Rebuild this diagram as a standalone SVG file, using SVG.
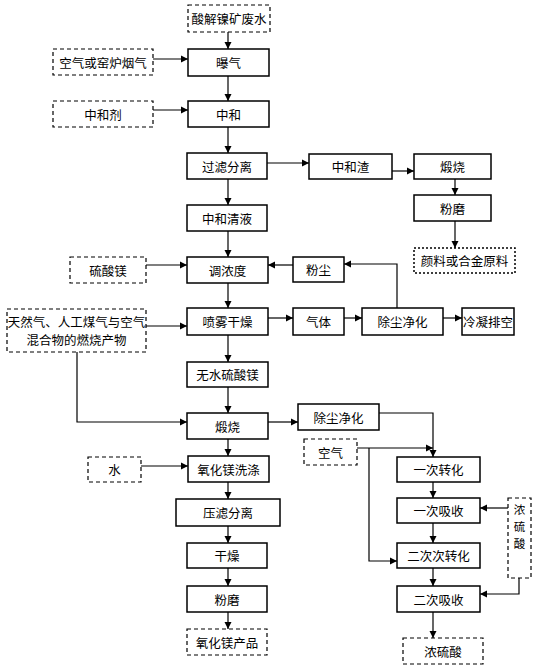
<svg xmlns="http://www.w3.org/2000/svg" width="536" height="672" viewBox="0 0 536 672">
<style>
.b{fill:#fff;stroke:#000;stroke-width:1.5}
.d{fill:#fff;stroke:#000;stroke-width:1.2;stroke-dasharray:4 3}
.o{fill:#fff;stroke:#000;stroke-width:1.5;stroke-dasharray:2 2}
text{font-family:"Noto Sans CJK SC","Noto Sans CJK JP",sans-serif;font-size:12.5px;fill:#000;text-anchor:middle;dominant-baseline:central}
.v{font-size:11.5px}
.c{fill:none;stroke:#000;stroke-width:1.2;marker-end:url(#a)}
</style>
<defs>
<marker id="a" markerUnits="userSpaceOnUse" markerWidth="8" markerHeight="8" refX="7" refY="4" orient="auto">
<path d="M0,0.5 L7,4 L0,7.5 Z" fill="#000"/>
</marker>
</defs>
<rect width="536" height="672" fill="#fff"/>
<g id="connectors">
<path class="c" d="M228,32 V49"/>
<path class="c" d="M153,59 H188"/>
<path class="c" d="M228,76 V101"/>
<path class="c" d="M153,110 H188"/>
<path class="c" d="M228,127 V153"/>
<path class="c" d="M267,163 H309"/>
<path class="c" d="M392,171 H414"/>
<path class="c" d="M455,179 V195"/>
<path class="c" d="M455,221 V248"/>
<path class="c" d="M228,179 V205"/>
<path class="c" d="M228,231 V257"/>
<path class="c" d="M146,265 H187"/>
<path class="c" d="M293,265 H268"/>
<path class="c" d="M397,308 V264 H344"/>
<path class="c" d="M228,283 V308"/>
<path class="c" d="M146,326 H187"/>
<path class="c" d="M268,318 H293"/>
<path class="c" d="M344,318 H362"/>
<path class="c" d="M443,318 H462"/>
<path class="c" d="M228,335 V362"/>
<path class="c" d="M228,387 V413"/>
<path class="c" d="M77,352 V422 H187"/>
<path class="c" d="M268,422 H298"/>
<path class="c" d="M379,413 H433 V457"/>
<path class="c" d="M357,448 H433"/>
<path class="c" d="M369,448 V561 H397"/>
<path class="c" d="M433,482 V498"/>
<path class="c" d="M433,523 V543"/>
<path class="c" d="M433,568 V586"/>
<path class="c" d="M508,508 H480"/>
<path class="c" d="M519,578 V594 H480"/>
<path class="c" d="M433,612 V638"/>
<path class="c" d="M228,439 V456"/>
<path class="c" d="M141,466 H188"/>
<path class="c" d="M228,482 V499"/>
<path class="c" d="M228,526 V543"/>
<path class="c" d="M228,568 V586"/>
<path class="c" d="M228,612 V629"/>
</g>
<g id="n1"><rect class="d" x="188" y="5" width="82" height="27"/><text x="229" y="18.5">酸解镍矿废水</text></g>
<g id="n2"><rect class="b" x="188" y="49" width="81" height="27"/><text x="228.5" y="62.5">曝气</text></g>
<g id="n3"><rect class="d" x="53" y="49" width="100" height="26"/><text x="103" y="62">空气或窑炉烟气</text></g>
<g id="n4"><rect class="d" x="53" y="101" width="100" height="26"/><text x="103" y="114">中和剂</text></g>
<g id="n5"><rect class="b" x="188" y="101" width="81" height="26"/><text x="228.5" y="114">中和</text></g>
<g id="n6"><rect class="b" x="187" y="153" width="80" height="26"/><text x="227" y="166">过滤分离</text></g>
<g id="n7"><rect class="b" x="309" y="154" width="83" height="25"/><text x="350.5" y="166.5">中和渣</text></g>
<g id="n8"><rect class="b" x="414" y="154" width="77" height="25"/><text x="452.5" y="166.5">煅烧</text></g>
<g id="n9"><rect class="b" x="414" y="195" width="77" height="26"/><text x="452.5" y="208">粉磨</text></g>
<g id="n10"><rect class="o" x="414" y="248" width="101" height="25"/><text x="464.5" y="260.5">颜料或合金原料</text></g>
<g id="n11"><rect class="b" x="187" y="205" width="80" height="26"/><text x="227" y="218">中和清液</text></g>
<g id="n12"><rect class="b" x="187" y="257" width="81" height="26"/><text x="227.5" y="270">调浓度</text></g>
<g id="n13"><rect class="d" x="70" y="257" width="76" height="26"/><text x="108" y="270">硫酸镁</text></g>
<g id="n14"><rect class="b" x="293" y="257" width="51" height="25"/><text x="318.5" y="269.5">粉尘</text></g>
<g id="n15"><rect class="b" x="187" y="308" width="81" height="27"/><text x="227.5" y="321.5">喷雾干燥</text></g>
<g id="n16"><rect class="d" x="7" y="309" width="139" height="43"/><text x="76.5" y="321">天然气、人工煤气与空气</text><text x="76.5" y="339">混合物的燃烧产物</text></g>
<g id="n17"><rect class="b" x="293" y="308" width="51" height="27"/><text x="318.5" y="321.5">气体</text></g>
<g id="n18"><rect class="b" x="362" y="308" width="81" height="27"/><text x="402.5" y="321.5">除尘净化</text></g>
<g id="n19"><rect class="b" x="462" y="308" width="52" height="27"/><text x="488" y="321.5">冷凝排空</text></g>
<g id="n20"><rect class="b" x="187" y="362" width="81" height="25"/><text x="227.5" y="374.5">无水硫酸镁</text></g>
<g id="n21"><rect class="b" x="187" y="413" width="81" height="26"/><text x="227.5" y="426">煅烧</text></g>
<g id="n22"><rect class="b" x="298" y="404" width="81" height="26"/><text x="338.5" y="417">除尘净化</text></g>
<g id="n23"><rect class="d" x="304" y="439" width="53" height="26"/><text x="330.5" y="452">空气</text></g>
<g id="n24"><rect class="b" x="397" y="457" width="83" height="25"/><text x="438.5" y="469.5">一次转化</text></g>
<g id="n25"><rect class="b" x="397" y="498" width="83" height="25"/><text x="438.5" y="510.5">一次吸收</text></g>
<g id="n26"><rect class="b" x="397" y="543" width="83" height="25"/><text x="438.5" y="555.5">二次次转化</text></g>
<g id="n27"><rect class="b" x="397" y="586" width="83" height="26"/><text x="438.5" y="599">二次吸收</text></g>
<g id="n28"><rect class="d" x="508" y="498" width="23" height="80"/><text class="v" x="519.5" y="509">浓</text><text class="v" x="519.5" y="526">硫</text><text class="v" x="519.5" y="543">酸</text></g>
<g id="n29"><rect class="d" x="403" y="638" width="80" height="26"/><text x="443" y="651">浓硫酸</text></g>
<g id="n30"><rect class="d" x="88" y="457" width="53" height="25"/><text x="114.5" y="469.5">水</text></g>
<g id="n31"><rect class="b" x="188" y="456" width="81" height="26"/><text x="228.5" y="469">氧化镁洗涤</text></g>
<g id="n32"><rect class="b" x="176" y="499" width="104" height="27"/><text x="228" y="512.5">压滤分离</text></g>
<g id="n33"><rect class="b" x="187" y="543" width="80" height="25"/><text x="227" y="555.5">干燥</text></g>
<g id="n34"><rect class="b" x="187" y="586" width="80" height="26"/><text x="227" y="599">粉磨</text></g>
<g id="n35"><rect class="d" x="187" y="629" width="80" height="26"/><text x="227" y="642">氧化镁产品</text></g>
</svg>
